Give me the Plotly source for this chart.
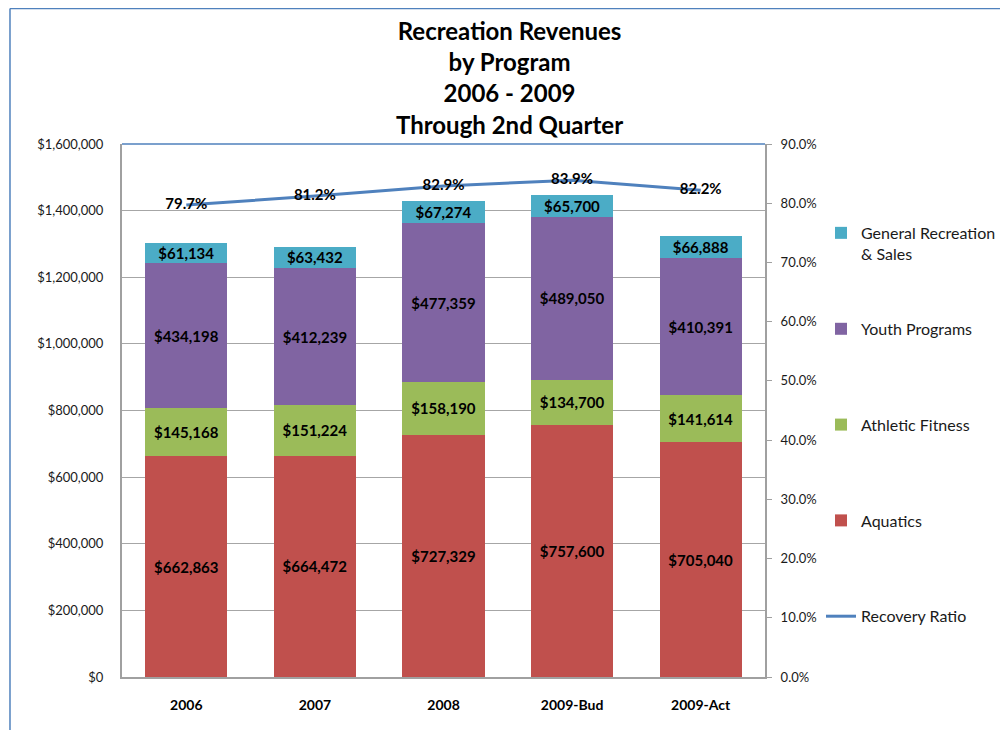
import plotly.graph_objects as go

categories = ["2006", "2007", "2008", "2009-Bud", "2009-Act"]
aquatics = [662863, 664472, 727329, 757600, 705040]
athletic = [145168, 151224, 158190, 134700, 141614]
youth = [434198, 412239, 477359, 489050, 410391]
general = [61134, 63432, 67274, 65700, 66888]
recovery = [0.797, 0.812, 0.829, 0.839, 0.822]

left_ticks = [0, 200000, 400000, 600000, 800000, 1000000, 1200000, 1400000, 1600000]
left_tick_text = ["$0", "$200,000", "$400,000", "$600,000", "$800,000",
                  "$1,000,000", "$1,200,000", "$1,400,000", "$1,600,000"]
right_ticks = [0.0, 0.1, 0.2, 0.3, 0.4, 0.5, 0.6, 0.7, 0.8, 0.9]

FONT = "Lato, 'Open Sans', sans-serif"
label_font = dict(family=FONT, size=15, color="#000000")

fig = go.Figure()

series = [
    ("Aquatics", aquatics, "#C0504D", 4, "legend2"),
    ("Athletic Fitness", athletic, "#9BBB59", 3, "legend2"),
    ("Youth Programs", youth, "#8064A2", 2, "legend2"),
    ("General Recreation<br>& Sales", general, "#4BACC6", 1, "legend"),
]
for name, vals, color, rank, leg in series:
    fig.add_trace(go.Bar(
        x=categories, y=vals, name=name,
        marker=dict(color=color, line=dict(width=0)),
        text=[f"<b>${v:,}</b>" for v in vals],
        textposition="inside", insidetextanchor="middle",
        textfont=label_font, textangle=0,
        legendgroup=name, legendrank=rank, legend=leg,
        hoverinfo="skip",
    ))

fig.add_trace(go.Scatter(
    x=categories, y=recovery, yaxis="y2", name="Recovery Ratio",
    mode="lines+text",
    line=dict(color="#4F81BD", width=3),
    text=[f"<b>{v*100:.1f}%</b>" for v in recovery],
    textposition="middle center",
    textfont=label_font,
    legendgroup="rr", legendrank=5, legend="legend2",
    cliponaxis=False,
))

legend_common = dict(
    x=0.813, xref="container", xanchor="left", yanchor="top",
    traceorder="grouped", tracegroupgap=72, valign="top",
    font=dict(family=FONT, size=16, color="#1A1A1A"),
    bgcolor="rgba(0,0,0,0)",
    itemwidth=30,
)

fig.update_layout(
    barmode="stack",
    bargap=0.36,
    width=1000, height=722,
    margin=dict(l=114, r=243, t=136, b=53, autoexpand=False),
    paper_bgcolor="#FFFFFF",
    plot_bgcolor="#FFFFFF",
    font=dict(family=FONT, size=13, color="#1A1A1A"),
    uniformtext=dict(mode="show", minsize=15),
    xaxis=dict(
        tickfont=dict(family=FONT, size=14, color="#000000", weight="bold"),
        showline=True, linecolor="#A0A0A0", linewidth=2,
        ticks="", showgrid=False, ticklabelstandoff=14,
    ),
    yaxis=dict(
        range=[0, 1600000], tickvals=left_ticks, ticktext=left_tick_text,
        showgrid=True, gridcolor="#A6A6A6", gridwidth=1,
        showline=True, linecolor="#A0A0A0", linewidth=2,
        ticks="", zeroline=False, ticklabelstandoff=14,
        tickfont=dict(family=FONT, size=13, color="#1A1A1A"),
    ),
    yaxis2=dict(
        overlaying="y", side="right",
        range=[0, 0.9], tickvals=right_ticks, tickformat=".1%",
        showgrid=False, zeroline=False,
        showline=True, linecolor="#A0A0A0", linewidth=2,
        ticks="outside", ticklen=5, tickcolor="#A0A0A0",
        ticklabelstandoff=6,
        tickfont=dict(family=FONT, size=13, color="#1A1A1A"),
    ),
    legend=dict(y=0.865, **legend_common),
    legend2=dict(y=0.685, **legend_common),
    showlegend=True,
)

fig.add_annotation(
    text="<b>Recreation Revenues<br>by Program<br>2006 - 2009<br>Through 2nd Quarter</b>",
    xref="paper", yref="paper", x=0.6034, y=1.1257,
    xanchor="center", yanchor="middle", showarrow=False,
    font=dict(family=FONT, size=24, color="#000000"),
)

# Chart border and plot-area top edge (styling only)
fig.add_shape(type="line", xref="paper", yref="paper", x0=0, x1=1, y0=1, y1=1,
              line=dict(color="#4F81BD", width=1.5))
fig.add_shape(type="line", xref="paper", yref="paper", x0=-0.1742, x1=-0.1742, y0=-0.2, y1=1.254,
              line=dict(color="#4F81BD", width=1.5))
fig.add_shape(type="line", xref="paper", yref="paper", x0=-0.1742, x1=1.5, y0=1.254, y1=1.254,
              line=dict(color="#4F81BD", width=1.5))

fig.write_html("out.html")
